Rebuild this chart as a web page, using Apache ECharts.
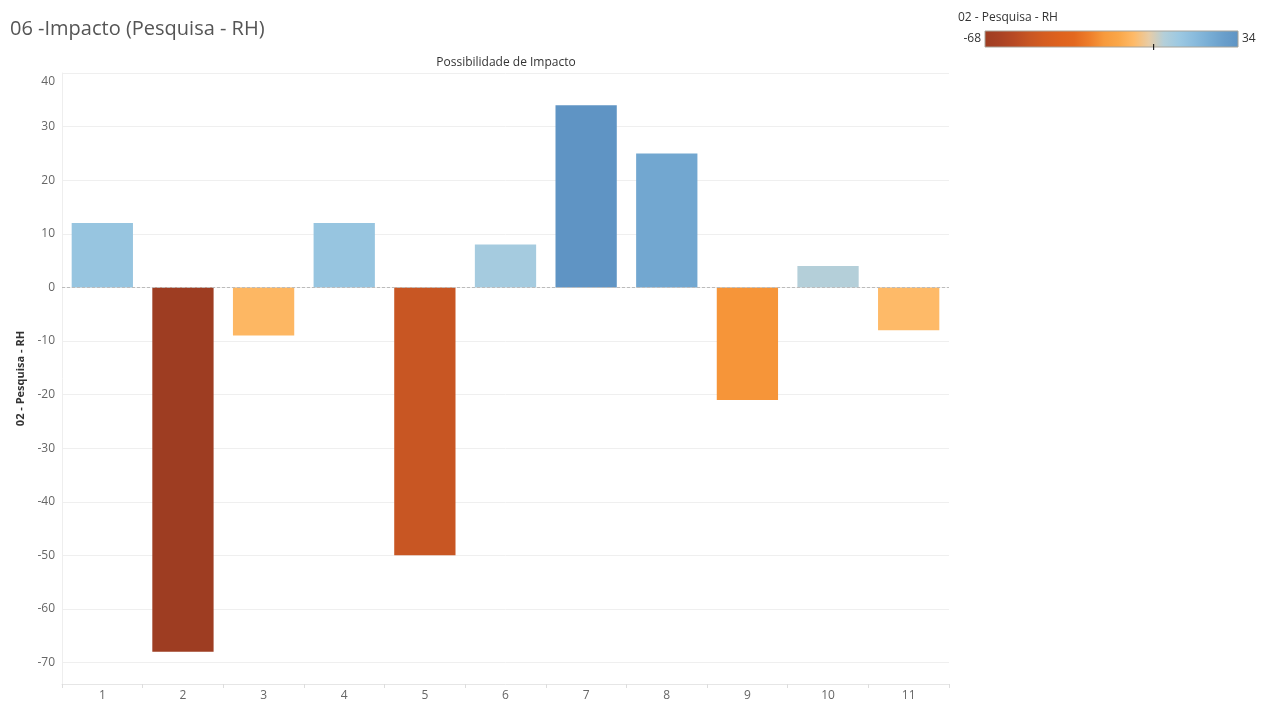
<!DOCTYPE html>
<html>
<head>
<meta charset="utf-8">
<script src="https://cdn.jsdelivr.net/npm/echarts@6/dist/echarts.min.js"></script>
<style>
html,body{margin:0;padding:0;background:#fff;}
#chart{width:1265px;height:714px;}
</style>
</head>
<body>
<div id="chart"></div>
<script>
// ---- data ----
const categories = ['1','2','3','4','5','6','7','8','9','10','11'];
const values = [12, -68, -9, 12, -50, 8, 34, 25, -21, 4, -8];
const yTicks = [-70, -60, -50, -40, -30, -20, -10, 0, 10, 20, 30, 40];
const colorMin = -68;
const colorMax = 34;
// diverging orange-blue palette, evenly spaced from colorMin to colorMax
const paletteColors = ['#9e3d22','#a94224','#b84a24','#c85623','#d55d20','#de621e','#e3681f','#ee7d2a','#f79a3c','#faa749','#feba68','#e8cca5','#b4cfd9','#9dc9e2','#8bbcdd','#79aed5','#6a9fcb','#5f94c4'];

const FONT = 'Open Sans';
const chart = echarts.init(document.getElementById('chart'));

// legend geometry
const lgX = 985, lgY = 31, lgW = 253, lgH = 16;
const zeroFrac = (0 - colorMin) / (colorMax - colorMin);

chart.setOption({
  animation: false,
  backgroundColor: '#ffffff',
  textStyle: {fontFamily: FONT},
  title: [{
    text: '06 -Impacto (Pesquisa - RH)',
    left: 10, top: 19, padding: 0,
    textStyle: {fontFamily: FONT, fontSize: 20, fontWeight: 'normal', color: '#555555'}
  }, {
    text: 'Possibilidade de Impacto',
    left: 506, top: 57, padding: 0, textAlign: 'center',
    textStyle: {fontFamily: FONT, fontSize: 12, fontWeight: 'normal', color: '#333333'}
  }],
  grid: {left: 62, right: 316, top: 73, bottom: 30, containLabel: false},
  visualMap: {
    show: false, type: 'continuous', dimension: 1,
    min: colorMin, max: colorMax,
    inRange: {color: paletteColors}
  },
  xAxis: {
    type: 'category', data: categories,
    axisLine: {show: true, onZero: false, lineStyle: {color: '#e6e6e6'}},
    axisTick: {show: true, alignWithLabel: false, length: 4, lineStyle: {color: '#dddddd'}},
    axisLabel: {color: '#666666', fontSize: 12, margin: 6, fontFamily: FONT},
    splitLine: {show: false}
  },
  yAxis: {
    type: 'value', min: -74, max: 40, interval: 2,
    name: '02 - Pesquisa - RH', nameLocation: 'middle', nameGap: 34,
    nameTextStyle: {fontFamily: FONT, fontSize: 11, fontWeight: 'bold', color: '#333333'},
    axisLine: {show: true, lineStyle: {color: '#eeeeee'}},
    axisTick: {show: false},
    axisLabel: {
      color: '#666666', fontSize: 12, margin: 7, fontFamily: FONT,
      formatter: function (v) {
        if (yTicks.indexOf(v) < 0) return '';
        if (v === 40) return '{t|' + v + '}';
        return String(v);
      },
      rich: {t: {color: '#666666', fontSize: 12, fontFamily: FONT, padding: [18, 0, 0, 0]}}
    },
    splitLine: {show: true, lineStyle: {color: ['transparent','transparent','#efefef','transparent','transparent'], width: 1}}
  },
  series: [{
    type: 'bar',
    data: values,
    barCategoryGap: '24%',
    itemStyle: {borderWidth: 0},
    markLine: {
      silent: true, symbol: ['none','none'],
      label: {show: false},
      lineStyle: {color: '#bbbbbb', type: [3, 2], width: 1},
      data: [{yAxis: 0}]
    }
  }],
  graphic: [
    {type: 'text', left: 958, top: 12, style: {text: '02 - Pesquisa - RH', fontFamily: FONT, fontSize: 12, fontWeight: 'normal', fill: '#333333'}},
    {type: 'rect', shape: {x: lgX, y: lgY, width: lgW, height: lgH},
      style: {
        fill: new echarts.graphic.LinearGradient(0, 0, 1, 0, paletteColors.map((c, i) => ({offset: i / (paletteColors.length - 1), color: c}))),
        stroke: '#a8a49a', lineWidth: 1
      }},
    {type: 'line', shape: {x1: lgX + lgW * zeroFrac, y1: lgY + lgH - 3, x2: lgX + lgW * zeroFrac, y2: lgY + lgH + 3}, style: {stroke: '#000', lineWidth: 1}},
    {type: 'text', x: lgX - 4, y: lgY + lgH / 2, style: {text: String(colorMin), align: 'right', verticalAlign: 'middle', fontFamily: FONT, fontSize: 12, fill: '#333333'}},
    {type: 'text', x: lgX + lgW + 4, y: lgY + lgH / 2, style: {text: String(colorMax), align: 'left', verticalAlign: 'middle', fontFamily: FONT, fontSize: 12, fill: '#333333'}}
  ]
});
</script>
</body>
</html>
